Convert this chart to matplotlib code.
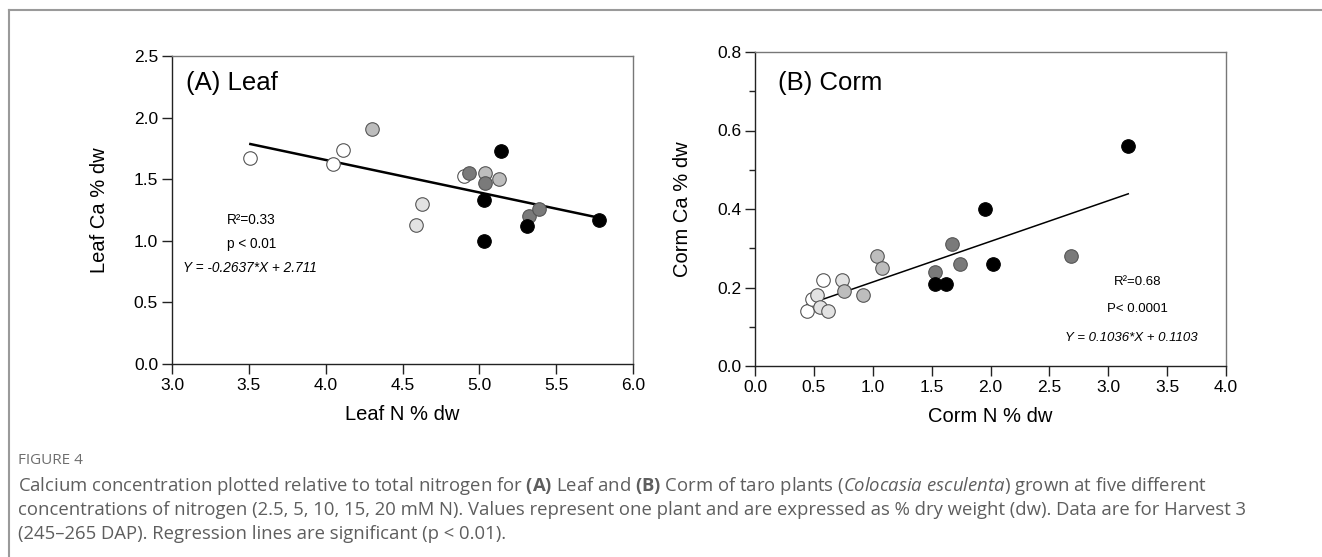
import matplotlib
matplotlib.use("Agg")
import matplotlib.pyplot as plt
from matplotlib.lines import Line2D
import numpy as np

plt.rcParams['font.family'] = ['Liberation Sans', 'DejaVu Sans']
plt.rcParams['mathtext.fontset'] = 'custom'
plt.rcParams['mathtext.rm'] = 'Open Sans'
plt.rcParams['mathtext.it'] = 'Open Sans:italic'
plt.rcParams['mathtext.bf'] = 'Open Sans:bold'

# ---- data ----
group_colors = ['#ffffff', '#e2e2e2', '#bdbdbd', '#7a7a7a', '#000000']  # 2.5, 5, 10, 15, 20 mM N

leaf_n = [3.51, 4.05, 4.11, 4.90,
          4.59, 4.63,
          4.30, 5.04, 5.13,
          4.93, 5.04, 5.32, 5.39,
          5.14, 5.03, 5.03, 5.31, 5.78]
leaf_ca = [1.67, 1.62, 1.74, 1.53,
           1.13, 1.30,
           1.91, 1.55, 1.50,
           1.55, 1.47, 1.20, 1.26,
           1.73, 1.33, 1.00, 1.12, 1.17]
leaf_group = [0, 0, 0, 0,
              1, 1,
              2, 2, 2,
              3, 3, 3, 3,
              4, 4, 4, 4, 4]

corm_n = [0.44, 0.48, 0.58,
          0.53, 0.55, 0.62, 0.74,
          0.76, 0.92, 1.04, 1.08,
          1.53, 1.67, 1.74, 2.68,
          1.53, 1.62, 1.95, 2.02, 3.17]
corm_ca = [0.14, 0.17, 0.22,
           0.18, 0.15, 0.14, 0.22,
           0.19, 0.18, 0.28, 0.25,
           0.24, 0.31, 0.26, 0.28,
           0.21, 0.21, 0.40, 0.26, 0.56]
corm_group = [0, 0, 0,
              1, 1, 1, 1,
              2, 2, 2, 2,
              3, 3, 3, 3,
              4, 4, 4, 4, 4]

leaf_slope, leaf_intercept = -0.2637, 2.711
corm_slope, corm_intercept = 0.1036, 0.1103

leaf_xticks = [3.0, 3.5, 4.0, 4.5, 5.0, 5.5, 6.0]
leaf_yticks = [0.0, 0.5, 1.0, 1.5, 2.0, 2.5]
corm_xticks = [0.0, 0.5, 1.0, 1.5, 2.0, 2.5, 3.0, 3.5, 4.0]
corm_yticks = [0.0, 0.2, 0.4, 0.6, 0.8]

fig = plt.figure(figsize=(13.22, 5.57), dpi=100)

# frame lines (top and left)
fig.add_artist(Line2D([9/1322, 1.0], [1 - 10/557, 1 - 10/557], transform=fig.transFigure,
                      color='#9a9a9a', lw=1.5))
fig.add_artist(Line2D([9/1322, 9/1322], [0, 1 - 10/557], transform=fig.transFigure,
                      color='#9a9a9a', lw=1.5))

axA = fig.add_axes([172/1322, 1 - 364/557, 461/1322, 308/557])
axB = fig.add_axes([755/1322, 1 - 366/557, 471/1322, 314/557])


def style(ax):
    for s in ['left', 'bottom']:
        ax.spines[s].set_color('#222222')
        ax.spines[s].set_linewidth(1.0)
    for s in ['top', 'right']:
        ax.spines[s].set_color('#777777')
        ax.spines[s].set_linewidth(1.0)
    ax.tick_params(which='major', direction='out', length=7, width=1.0, labelsize=12.5,
                   color='#222222', pad=3)
    ax.tick_params(which='minor', direction='out', length=4, width=1.0, color='#222222')


def scatter(ax, xs, ys, gs):
    for x, y, g in zip(xs, ys, gs):
        ec = '#000000' if g == 4 else '#555555'
        ax.scatter([x], [y], s=95, c=group_colors[g], edgecolors=ec, linewidths=0.8, zorder=3)


# Panel A
style(axA)
lx = np.array([min(leaf_n), max(leaf_n)])
axA.plot(lx, leaf_slope * lx + leaf_intercept, color='black', lw=1.8, zorder=2)
scatter(axA, leaf_n, leaf_ca, leaf_group)
axA.set_xlim(3.0, 6.0)
axA.set_ylim(0.0, 2.5)
axA.set_xticks(leaf_xticks)
axA.set_yticks(leaf_yticks)
axA.set_xticklabels([f'{v:.1f}' for v in leaf_xticks])
axA.set_yticklabels([f'{v:.1f}' for v in leaf_yticks])
axA.set_xlabel('Leaf N % dw', fontsize=14.5, labelpad=9)
axA.set_ylabel('Leaf Ca % dw', fontsize=14.5, labelpad=18)
axA.text(0.030, 0.912, '(A) Leaf', transform=axA.transAxes, fontsize=18.5, ha='left', va='center')
axA.text(3.515, 1.168, 'R²=0.33', fontsize=9.8, ha='center', va='center')
axA.text(3.515, 0.973, 'p < 0.01', fontsize=9.8, ha='center', va='center')
axA.text(3.51, 0.779, 'Y = -0.2637*X + 2.711', fontsize=9.8, ha='center', va='center', style='italic')

# Panel B
style(axB)
cx = np.array([min(corm_n), max(corm_n)])
axB.plot(cx, corm_slope * cx + corm_intercept, color='black', lw=1.1, zorder=2)
scatter(axB, corm_n, corm_ca, corm_group)
axB.set_xlim(0.0, 4.0)
axB.set_ylim(0.0, 0.8)
axB.set_xticks(corm_xticks)
axB.set_yticks(corm_yticks)
axB.set_yticks([0.1, 0.3, 0.5, 0.7], minor=True)
axB.set_xticklabels([f'{v:.1f}' for v in corm_xticks])
axB.set_yticklabels([f'{v:.1f}' for v in corm_yticks])
axB.set_xlabel('Corm N % dw', fontsize=14.5, labelpad=9)
axB.set_ylabel('Corm Ca % dw', fontsize=14.5, labelpad=18)
axB.text(0.049, 0.90, '(B) Corm', transform=axB.transAxes, fontsize=18.5, ha='left', va='center')
axB.text(3.25, 0.214, 'R²=0.68', fontsize=9.5, ha='center', va='center')
axB.text(3.245, 0.146, 'P< 0.0001', fontsize=9.5, ha='center', va='center')
axB.text(3.195, 0.072, 'Y = 0.1036*X + 0.1103', fontsize=9.5, ha='center', va='center', style='italic')

# Caption
cap_color = '#5e5e5e'
fig.text(18/1322, 1 - 461/557, 'FIGURE 4', fontsize=11, color='#6e6e6e', family='Open Sans',
         ha='left', va='center')
lines = [
    r'Calcium concentration plotted relative to total nitrogen for $\mathbf{(A)}$ Leaf and $\mathbf{(B)}$ Corm of taro plants ($\mathit{Colocasia\ esculenta}$) grown at five different',
    'concentrations of nitrogen (2.5, 5, 10, 15, 20 mM N). Values represent one plant and are expressed as % dry weight (dw). Data are for Harvest 3',
    '(245\u2013265 DAP). Regression lines are significant (p < 0.01).',
]
for i, t in enumerate(lines):
    fig.text(18/1322, 1 - (486 + 24 * i)/557, t, fontsize=13.3, color=cap_color, family='Open Sans',
             ha='left', va='center')

fig.savefig('out.png', dpi=100)
